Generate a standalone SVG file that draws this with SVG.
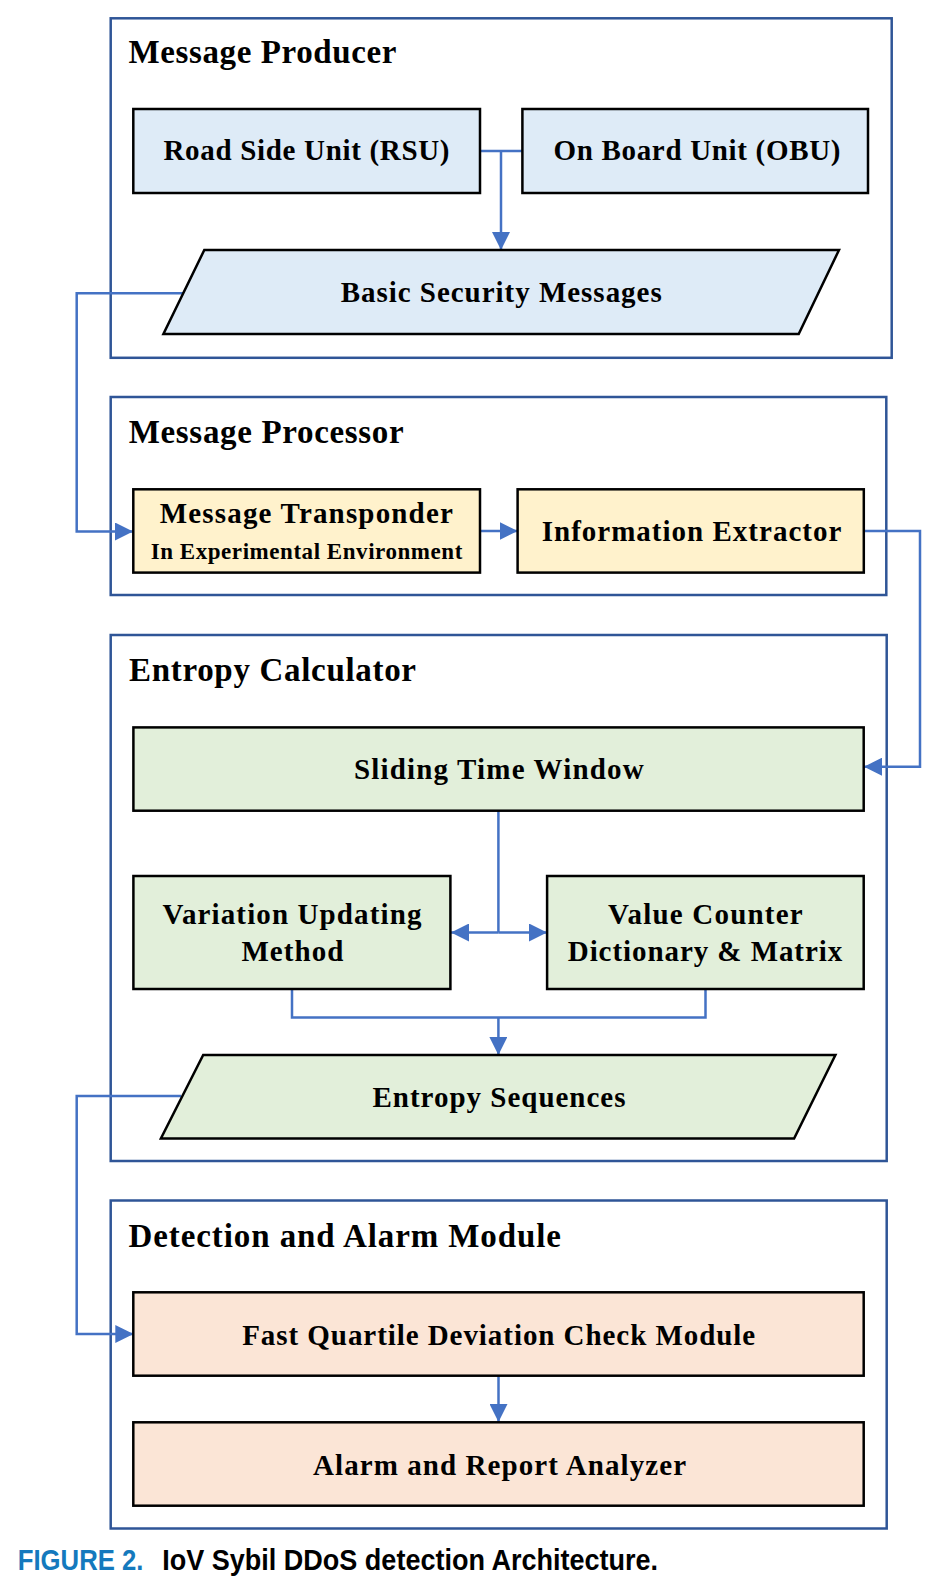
<svg xmlns="http://www.w3.org/2000/svg" width="943" height="1584" viewBox="0 0 943 1584">
<defs>
<style>
.cont{fill:#ffffff;stroke:#2f5597;stroke-width:2.5}
.node{stroke:#000000;stroke-width:2.5}
.blue{fill:#deebf7}
.yellow{fill:#fff2cc}
.green{fill:#e2efda}
.peach{fill:#fbe5d6}
.title{font-family:"Liberation Serif","Times New Roman",serif;font-weight:bold;font-size:33px;fill:#000}
.lbl{font-family:"Liberation Serif","Times New Roman",serif;font-weight:bold;font-size:29px;fill:#000;text-anchor:middle}
.sub{font-family:"Liberation Serif","Times New Roman",serif;font-weight:bold;font-size:23px;fill:#000;text-anchor:middle}
.conn{fill:none;stroke:#4472c4;stroke-width:2.5}
.cap{font-family:"Liberation Sans","Arial",sans-serif;font-weight:bold;font-size:30px}
</style>
<marker id="arr" viewBox="0 0 10 10" refX="10" refY="5" markerWidth="18" markerHeight="18" markerUnits="userSpaceOnUse" orient="auto">
<path d="M0,0 L10,5 L0,10 z" fill="#4472c4"/>
</marker>
</defs>
<rect width="943" height="1584" fill="#ffffff"/>

<g id="producer">
<rect class="cont" x="110.7" y="18.3" width="781" height="339.5"/>
<text class="title" x="128.5" y="62.7" textLength="268" lengthAdjust="spacing">Message Producer</text>
</g>
<g id="processor">
<rect class="cont" x="110.7" y="397" width="775.6" height="198"/>
<text class="title" x="128.7" y="442.7" textLength="275" lengthAdjust="spacing">Message Processor</text>
</g>
<g id="entropy">
<rect class="cont" x="110.7" y="635" width="776" height="526"/>
<text class="title" x="129" y="681" textLength="287" lengthAdjust="spacing">Entropy Calculator</text>
</g>
<g id="detection">
<rect class="cont" x="110.7" y="1200.5" width="776" height="328"/>
<text class="title" x="128.5" y="1246.7" textLength="432.5" lengthAdjust="spacing">Detection and Alarm Module</text>
</g>

<g id="connectors">
<path class="conn" d="M480,151 H522"/>
<path class="conn" d="M501,151 V250" marker-end="url(#arr)"/>
<path class="conn" d="M184,293.3 H76.7 V531.5 H133" marker-end="url(#arr)"/>
<path class="conn" d="M480,531 H517.6" marker-end="url(#arr)"/>
<path class="conn" d="M864,531 H920 V766.7 H864" marker-end="url(#arr)"/>
<path class="conn" d="M498.4,810.5 V932.5"/>
<path class="conn" d="M498.4,932.5 H451" marker-end="url(#arr)"/>
<path class="conn" d="M498.4,932.5 H547" marker-end="url(#arr)"/>
<path class="conn" d="M292,989 V1017.5 H705.5 V989"/>
<path class="conn" d="M498.4,1017.5 V1055" marker-end="url(#arr)"/>
<path class="conn" d="M181,1096 H76.7 V1334 H133.3" marker-end="url(#arr)"/>
<path class="conn" d="M498.5,1376 V1422" marker-end="url(#arr)"/>
</g>

<g id="rsu">
<rect class="node blue" x="133.3" y="109" width="346.7" height="84"/>
<text class="lbl" x="306.5" y="160" textLength="286" lengthAdjust="spacing">Road Side Unit (RSU)</text>
</g>
<g id="obu">
<rect class="node blue" x="522.4" y="109" width="345.6" height="84"/>
<text class="lbl" x="697" y="160" textLength="287" lengthAdjust="spacing">On Board Unit (OBU)</text>
</g>
<g id="bsm">
<polygon class="node blue" points="204.3,250 839,250 798.7,334 163.4,334"/>
<text class="lbl" x="501.2" y="302.3" textLength="321" lengthAdjust="spacing">Basic Security Messages</text>
</g>
<g id="transponder">
<rect class="node yellow" x="133.3" y="489.3" width="346.7" height="83.3"/>
<text class="lbl" x="306.3" y="522.7" textLength="293" lengthAdjust="spacing">Message Transponder</text>
<text class="sub" x="306.5" y="559.3" textLength="311.6" lengthAdjust="spacing">In Experimental Environment</text>
</g>
<g id="extractor">
<rect class="node yellow" x="517.6" y="489.3" width="346.2" height="83.3"/>
<text class="lbl" x="691.5" y="540.7" textLength="299.6" lengthAdjust="spacing">Information Extractor</text>
</g>
<g id="sliding">
<rect class="node green" x="133.4" y="727.4" width="730.3" height="83.3"/>
<text class="lbl" x="498.8" y="779.3" textLength="289.7" lengthAdjust="spacing">Sliding Time Window</text>
</g>
<g id="variation">
<rect class="node green" x="133.4" y="876" width="317" height="113"/>
<text class="lbl" x="292" y="924" textLength="258.8" lengthAdjust="spacing">Variation Updating</text>
<text class="lbl" x="292.4" y="961.3" textLength="102" lengthAdjust="spacing">Method</text>
</g>
<g id="valuecounter">
<rect class="node green" x="547.1" y="876" width="316.6" height="113"/>
<text class="lbl" x="705.3" y="924" textLength="194.7" lengthAdjust="spacing">Value Counter</text>
<text class="lbl" x="705" y="961.3" textLength="274.5" lengthAdjust="spacing">Dictionary &amp; Matrix</text>
</g>
<g id="entropyseq">
<polygon class="node green" points="203.2,1055 835.4,1055 794.1,1138.5 160.9,1138.5"/>
<text class="lbl" x="499" y="1107" textLength="253" lengthAdjust="spacing">Entropy Sequences</text>
</g>
<g id="fqdc">
<rect class="node peach" x="133.3" y="1292.3" width="730.4" height="83.4"/>
<text class="lbl" x="498.7" y="1345" textLength="513" lengthAdjust="spacing">Fast Quartile Deviation Check Module</text>
</g>
<g id="alarm">
<rect class="node peach" x="133.3" y="1422.3" width="730.4" height="83.4"/>
<text class="lbl" x="499.5" y="1475" textLength="373" lengthAdjust="spacing">Alarm and Report Analyzer</text>
</g>

<g id="caption">
<text class="cap" x="17.8" y="1570" fill="#1479bd" textLength="125.6" lengthAdjust="spacingAndGlyphs">FIGURE 2.</text>
<text class="cap" x="162.3" y="1570" fill="#000000" textLength="495.7" lengthAdjust="spacingAndGlyphs">IoV Sybil DDoS detection Architecture.</text>
</g>
</svg>
